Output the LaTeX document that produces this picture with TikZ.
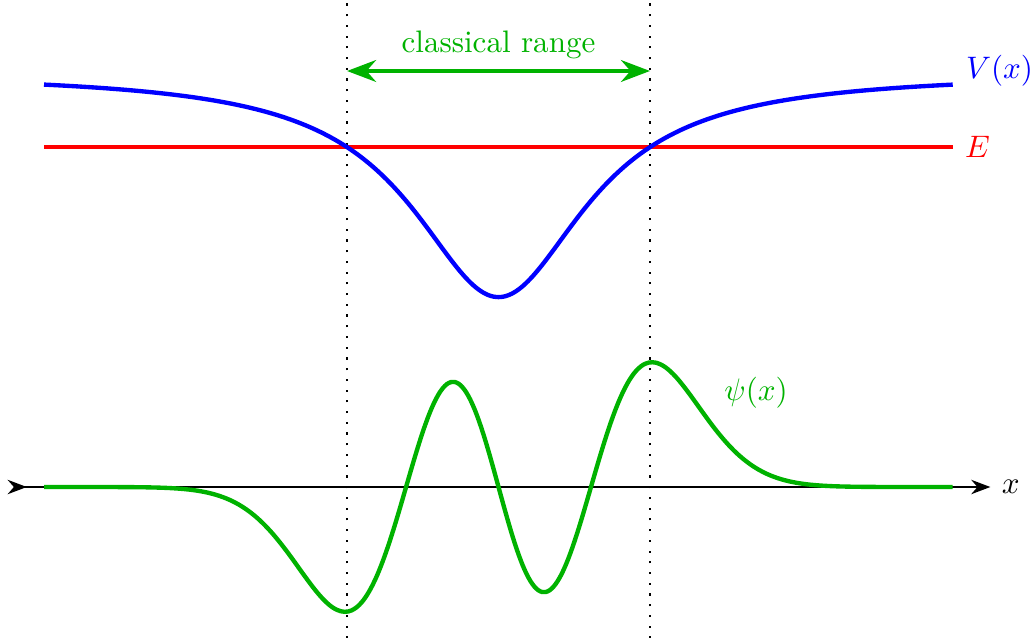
\documentclass[tikz,border=0pt]{standalone}
\usepackage{amsmath}
\usetikzlibrary{positioning,arrows.meta}
\definecolor{wavegreen}{rgb}{0,0.70,0}
\tikzset{
  % --- curves ----------------------------------------------------------
  potential/.style ={draw=blue, line width=1.4pt},
  energy/.style    ={draw=red, line width=1.2pt},
  wavefn/.style    ={draw=wavegreen, line width=1.4pt},
  % --- axis / guides ---------------------------------------------------
  axis/.style      ={line width=0.7pt, draw=black, >={Stealth}, >->},
  turning/.style   ={draw=black, line width=0.7pt, dash pattern=on 0.7pt off 2.75pt},
  classrange/.style={<->, >={Stealth}, line width=1.4pt, draw=wavegreen},
  % --- labels ----------------------------------------------------------
  lab/.style       ={font=\normalsize},
}

\begin{document}
\begin{tikzpicture}[x=1.1415cm, y=1.1415cm,
  declare function={vpot(\t)=4.1-2.22/(1+(\t/1.055)*(\t/1.055));
                    xi(\t)=1.338*\t;
                    gau(\t)=exp(-xi(\t)*xi(\t)/6);
                    psi(\t)=0.911*((2*xi(\t)*xi(\t)*xi(\t)-3*xi(\t))*gau(\t))*gau(\t)*gau(\t);}]
  \useasboundingbox (-4.936,-1.495) rectangle (5.302,4.822);

  % ===================== turning points =====================
  \coordinate (tlb) at (-1.5,-1.5);
  \coordinate (tlt) at (-1.5,4.82);
  \coordinate (trb) at (1.5,-1.5);
  \coordinate (trt) at (1.5,4.82);
  \draw[turning] (tlb) -- (tlt);
  \draw[turning] (trb) -- (trt);

  % ===================== x axis =====================
  \coordinate (xl) at (-4.86,0);
  \coordinate (xr) at (4.87,0);
  \draw[axis] (xl) -- (xr) node[lab, right] (xlab) {$x$};

  % ===================== energy level =====================
  \coordinate (el) at (-4.5,3.366);
  \coordinate (er) at (4.5,3.366);
  \draw[energy] (el) -- (er) node[lab, right, text=red] (elab) {$E$};

  % ===================== potential =====================
  \draw[potential] plot[domain=-4.5:4.5, samples=200, smooth] (\x,{vpot(\x)});
  \node[lab, text=blue, anchor=west] (vlab) at (4.52,4.12) {$V(x)$};

  % ===================== wave function =====================
  \draw[wavefn] plot[domain=-4.5:4.5, samples=240, smooth] (\x,{psi(\x)});
  \node[lab, text=wavegreen] (plab) at (2.55,0.93) {$\psi(x)$};

  % ===================== classical range =====================
  \coordinate (ral) at (-1.5,4.119);
  \coordinate (rar) at (1.5,4.119);
  \draw[classrange] (ral) -- node[lab, above, text=wavegreen] (rlab) {classical range} (rar);

\end{tikzpicture}
\end{document}
